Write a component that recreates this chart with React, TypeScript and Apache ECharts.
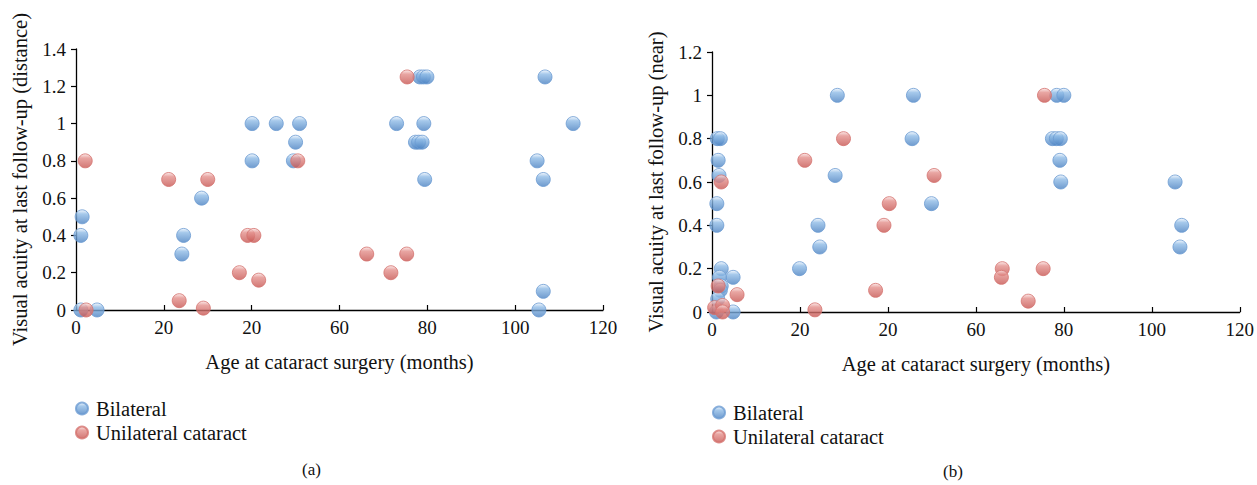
import React, { useEffect, useRef } from "react";
import * as echarts from "echarts";

// Tick labels on the x axis, as printed in the reference (second label reads "20")
const xTickLabels = ["0", "20", "20", "60", "80", "100", "120"];
const seriesNames = ["Bilateral", "Unilateral cataract"];

// Panel (a): distance acuity
const distBilateral: [number, number][] = [
  [1.1, 0], [4.8, 0], [1.4, 0.5], [1.1, 0.4], [24.1, 0.3], [24.5, 0.4], [28.6, 0.6],
  [40.1, 1], [40.1, 0.8], [45.6, 1], [50.9, 1], [50.0, 0.9], [49.5, 0.8],
  [78.3, 1.25], [79.1, 1.25], [79.9, 1.25], [106.8, 1.25], [73.0, 1], [79.2, 1],
  [113.2, 1], [77.3, 0.9], [78.0, 0.9], [78.8, 0.9], [105.0, 0.8], [79.4, 0.7],
  [106.4, 0.7], [106.4, 0.1], [105.4, 0],
];
const distUnilateral: [number, number][] = [
  [2.1, 0.8], [2.3, 0], [21.1, 0.7], [30.0, 0.7], [23.5, 0.05], [29.0, 0.01],
  [39.1, 0.4], [40.5, 0.4], [37.2, 0.2], [41.6, 0.16], [50.5, 0.8], [75.4, 1.25],
  [66.2, 0.3], [75.3, 0.3], [71.7, 0.2],
];

// Panel (b): near acuity
const nearBilateral: [number, number][] = [
  [1.2, 0.8], [1.9, 0.8], [1.4, 0.7], [1.6, 0.63], [1.1, 0.5], [1.1, 0.4], [2.1, 0.2],
  [1.7, 0.16], [2.1, 0.12], [1.9, 0.1], [1.3, 0.06], [1.0, 0], [4.8, 0.16], [4.8, 0],
  [19.9, 0.2], [24.1, 0.4], [24.5, 0.3], [28.0, 0.63], [28.5, 1], [45.8, 1], [45.5, 0.8],
  [49.9, 0.5], [78.4, 1], [80.0, 1], [77.4, 0.8], [78.3, 0.8], [79.2, 0.8], [79.1, 0.7],
  [79.3, 0.6], [105.3, 0.6], [106.8, 0.4], [106.4, 0.3],
];
const nearUnilateral: [number, number][] = [
  [2.1, 0.6], [1.4, 0.12], [0.6, 0.02], [2.4, 0.03], [2.4, 0], [5.7, 0.08], [21.1, 0.7],
  [29.9, 0.8], [23.4, 0.01], [37.2, 0.1], [39.1, 0.4], [40.3, 0.5], [50.5, 0.63],
  [75.6, 1], [66.0, 0.2], [65.8, 0.16], [75.3, 0.2], [71.9, 0.05],
];

const FONT = "Liberation Serif";
const TEXT_SIZE = 20.5;

const blueFill = {
  type: "linear", x: 0, y: 0, x2: 0, y2: 1,
  colorStops: [
    { offset: 0, color: "#f2f7fd" },
    { offset: 0.3, color: "#8fbbe6" },
    { offset: 1, color: "#4b82c2" },
  ],
};
const redFill = {
  type: "linear", x: 0, y: 0, x2: 0, y2: 1,
  colorStops: [
    { offset: 0, color: "#fbe6e5" },
    { offset: 0.3, color: "#e38f8b" },
    { offset: 1, color: "#c75652" },
  ],
};

function xAxis(gridIndex: number) {
  return {
    type: "value",
    gridIndex,
    min: 0,
    max: 120,
    interval: 20,
    name: "Age at cataract surgery (months)",
    nameLocation: "middle",
    nameGap: 41,
    nameTextStyle: { fontFamily: FONT, fontSize: TEXT_SIZE, color: "#111" },
    axisLine: { show: true, lineStyle: { color: "#000", width: 1.3 } },
    axisTick: { show: true, inside: true, length: 5, lineStyle: { color: "#000", width: 1.2 } },
    axisLabel: {
      fontFamily: FONT, fontSize: 19, color: "#111", margin: 8,
      formatter: (v: number) => xTickLabels[Math.round(v / 20)] ?? String(v),
    },
    splitLine: { show: false },
  };
}

function yAxis(gridIndex: number, max: number, name: string) {
  return {
    type: "value",
    gridIndex,
    min: 0,
    max,
    interval: 0.2,
    name,
    nameLocation: "middle",
    nameGap: 46,
    nameRotate: 90,
    nameTextStyle: { fontFamily: FONT, fontSize: TEXT_SIZE, color: "#111" },
    axisLine: { show: true, lineStyle: { color: "#000", width: 1.3 } },
    axisTick: { show: true, inside: false, length: 5, lineStyle: { color: "#000", width: 1.2 } },
    axisLabel: {
      fontFamily: FONT, fontSize: 19, color: "#111", margin: 10,
      formatter: (v: number) => String(Math.round(v * 10) / 10),
    },
    splitLine: { show: false },
  };
}

function scatter(name: string, data: [number, number][], idx: number, fill: any, border: string) {
  return {
    type: "scatter",
    name,
    xAxisIndex: idx,
    yAxisIndex: idx,
    data,
    symbol: "circle",
    symbolSize: 14,
    clip: false,
    itemStyle: { color: fill, borderColor: border, borderWidth: 1 },
    emphasis: { disabled: true },
  };
}

export default function App() {
  const ref = useRef<HTMLDivElement>(null);
  useEffect(() => {
    if (!ref.current) return;
    const chart = echarts.init(ref.current, undefined, { renderer: "svg" });
    const legendCommon = {
      orient: "vertical",
      icon: "circle",
      itemWidth: 12,
      itemHeight: 12,
      itemGap: 3,
      padding: 0,
      selectedMode: false,
      textStyle: { fontFamily: FONT, fontSize: TEXT_SIZE, color: "#111", padding: [0, 0, 0, 3] },
      data: seriesNames,
    };
    chart.setOption({
      animation: false,
      backgroundColor: "#fff",
      grid: [
        { left: 76, top: 49, width: 527, height: 261 },
        { left: 712, top: 52, width: 528, height: 260 },
      ],
      xAxis: [xAxis(0), xAxis(1)],
      yAxis: [
        yAxis(0, 1.4, "Visual acuity at last follow-up (distance)"),
        yAxis(1, 1.2, "Visual acuity at last follow-up (near)"),
      ],
      legend: [
        { ...legendCommon, left: 75, top: 398 },
        { ...legendCommon, left: 712, top: 402 },
      ],
      series: [
        scatter(seriesNames[0], distBilateral, 0, blueFill, "#6b9bd2"),
        scatter(seriesNames[1], distUnilateral, 0, redFill, "#d4726e"),
        scatter(seriesNames[0], nearBilateral, 1, blueFill, "#6b9bd2"),
        scatter(seriesNames[1], nearUnilateral, 1, redFill, "#d4726e"),
      ],
      graphic: [
        { type: "text", left: 302, top: 461, style: { text: "(a)", fontFamily: FONT, fontSize: 17, fill: "#111" } },
        { type: "text", left: 943, top: 463, style: { text: "(b)", fontFamily: FONT, fontSize: 17, fill: "#111" } },
      ],
    });
    return () => chart.dispose();
  }, []);
  return (
    <div
      ref={ref}
      style={{ position: "fixed", left: 0, top: 0, width: 1257, height: 485 }}
    />
  );
}
